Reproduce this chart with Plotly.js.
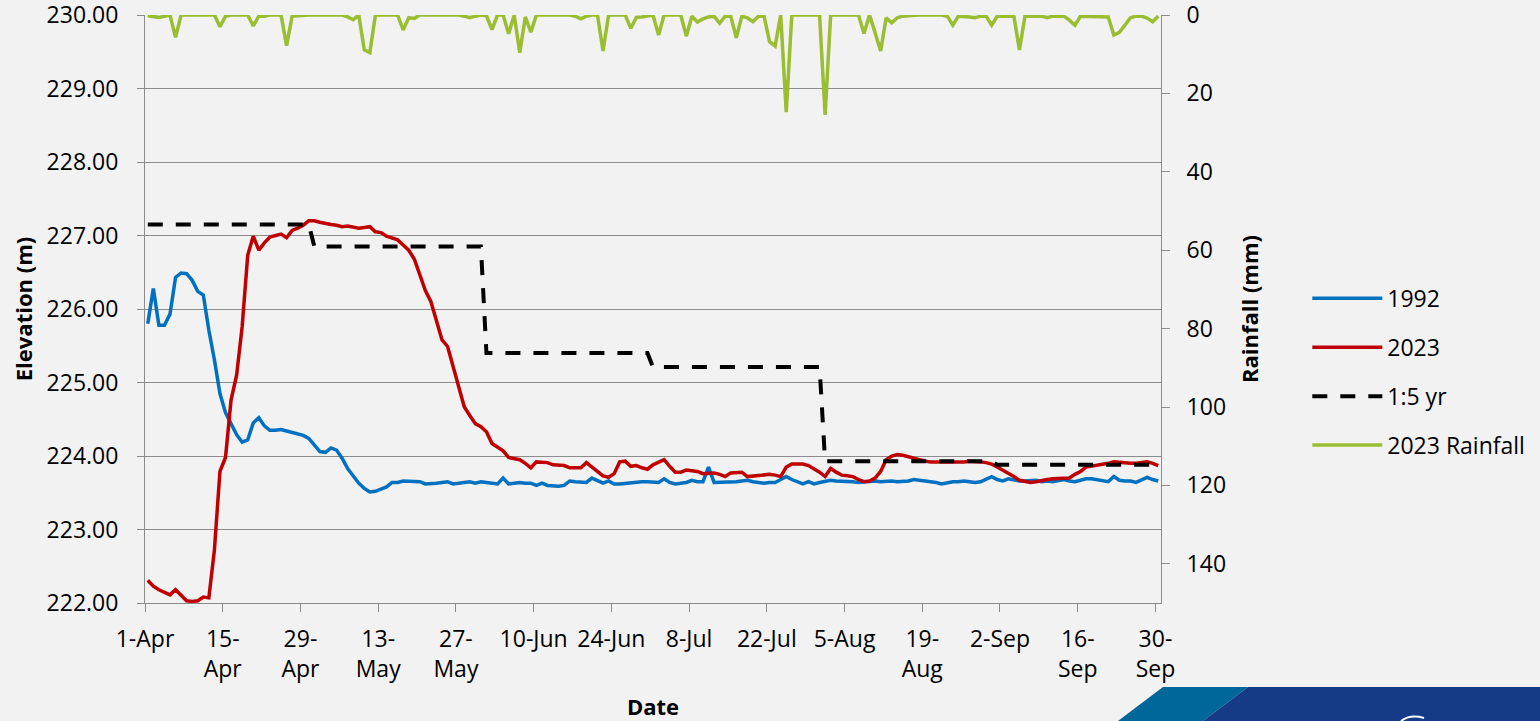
<!DOCTYPE html>
<html>
<head>
<meta charset="utf-8">
<script src="https://cdn.plot.ly/plotly-3.0.1.min.js"></script>
<style>
  html, body { margin: 0; padding: 0; background: #f2f2f2; }
  #chart { width: 1540px; height: 721px; }
</style>
</head>
<body>
<div id="chart"></div>
<script>
// ---- Data (daily, 1-Apr to 30-Sep) ----
const startDate = '2023-04-01';

const elev1992 = [
  225.80,226.28,225.78,225.78,225.93,226.43,226.49,226.48,226.39,226.24,
  226.19,225.71,225.31,224.85,224.59,224.44,224.29,224.19,224.22,224.45,
  224.52,224.41,224.35,224.35,224.36,224.34,224.32,224.30,224.28,224.24,
  224.15,224.06,224.05,224.11,224.08,223.97,223.83,223.73,223.63,223.56,
  223.51,223.52,223.55,223.58,223.64,223.64,223.66,223.66,223.65,223.65,
  223.62,223.62,223.63,223.64,223.65,223.62,223.63,223.63,223.65,223.63,
  223.65,223.64,223.63,223.62,223.70,223.62,223.63,223.64,223.63,223.63,
  223.60,223.63,223.60,223.59,223.59,223.60,223.66,223.65,223.65,223.64,
  223.70,223.66,223.63,223.66,223.62,223.62,223.63,223.63,223.64,223.65,
  223.65,223.65,223.64,223.69,223.64,223.62,223.63,223.64,223.67,223.65,
  223.65,223.85,223.64,223.64,223.64,223.65,223.65,223.66,223.67,223.65,
  223.64,223.63,223.64,223.64,223.68,223.72,223.68,223.65,223.62,223.65,
  223.62,223.64,223.66,223.67,223.66,223.66,223.65,223.65,223.64,223.65,
  223.66,223.66,223.65,223.66,223.66,223.65,223.65,223.66,223.68,223.67,
  223.66,223.66,223.64,223.62,223.64,223.65,223.65,223.66,223.65,223.64,
  223.65,223.68,223.72,223.68,223.66,223.69,223.67,223.66,223.66,223.67,
  223.67,223.65,223.66,223.65,223.67,223.68,223.66,223.65,223.67,223.69,
  223.69,223.68,223.67,223.65,223.72,223.67,223.66,223.66,223.64,223.68,
  223.71,223.68,223.66
];

const elev2023 = [
  222.31,222.23,222.18,222.14,222.11,222.18,222.10,222.03,222.02,222.03,
  222.08,222.07,222.72,223.79,223.98,224.76,225.10,225.76,226.73,226.99,
  226.80,226.90,226.98,227.00,227.02,226.97,227.07,227.10,227.14,227.20,
  227.20,227.18,227.16,227.15,227.14,227.12,227.13,227.12,227.10,227.11,
  227.12,227.05,227.04,226.99,226.97,226.94,226.87,226.80,226.68,226.45,
  226.25,226.10,225.85,225.58,225.49,225.22,224.92,224.67,224.55,224.44,
  224.40,224.33,224.17,224.12,224.07,223.98,223.96,223.95,223.90,223.84,
  223.92,223.92,223.91,223.88,223.87,223.87,223.84,223.84,223.84,223.91,
  223.85,223.79,223.73,223.71,223.76,223.92,223.93,223.86,223.87,223.84,
  223.82,223.88,223.91,223.95,223.86,223.78,223.78,223.81,223.80,223.79,
  223.76,223.76,223.77,223.75,223.72,223.77,223.78,223.78,223.72,223.73,
  223.73,223.75,223.75,223.74,223.72,223.85,223.89,223.89,223.89,223.87,
  223.83,223.78,223.72,223.83,223.78,223.74,223.73,223.72,223.68,223.65,
  223.66,223.70,223.79,223.95,224.00,224.02,224.01,223.99,223.96,223.94,
  223.93,223.92,223.92,223.91,223.91,223.91,223.92,223.92,223.93,223.93,
  223.92,223.91,223.89,223.85,223.81,223.77,223.72,223.67,223.65,223.64,
  223.65,223.67,223.68,223.69,223.69,223.70,223.70,223.75,223.79,223.85,
  223.86,223.87,223.88,223.90,223.92,223.91,223.90,223.90,223.90,223.91,
  223.92,223.90,223.87
];

const oneInFiveYr = [
  227.15,227.15,227.15,227.15,227.15,227.15,227.15,227.15,227.15,227.15,
  227.15,227.15,227.15,227.15,227.15,227.15,227.15,227.15,227.15,227.15,
  227.15,227.15,227.15,227.15,227.15,227.15,227.15,227.15,227.15,227.15,
  226.85,226.85,226.85,226.85,226.85,226.85,226.85,226.85,226.85,226.85,
  226.85,226.85,226.85,226.85,226.85,226.85,226.85,226.85,226.85,226.85,
  226.85,226.85,226.85,226.85,226.85,226.85,226.85,226.85,226.85,226.85,
  226.85,225.40,225.40,225.40,225.40,225.40,225.40,225.40,225.40,225.40,
  225.40,225.40,225.40,225.40,225.40,225.40,225.40,225.40,225.40,225.40,
  225.40,225.40,225.40,225.40,225.40,225.40,225.40,225.40,225.40,225.40,
  225.40,225.21,225.21,225.21,225.21,225.21,225.21,225.21,225.21,225.21,
  225.21,225.21,225.21,225.21,225.21,225.21,225.21,225.21,225.21,225.21,
  225.21,225.21,225.21,225.21,225.21,225.21,225.21,225.21,225.21,225.21,
  225.21,225.21,223.93,223.93,223.93,223.93,223.93,223.93,223.93,223.93,
  223.93,223.93,223.93,223.93,223.93,223.93,223.93,223.93,223.93,223.93,
  223.93,223.93,223.93,223.93,223.93,223.93,223.93,223.93,223.93,223.93,
  223.93,223.93,223.93,223.88,223.88,223.88,223.88,223.88,223.88,223.88,
  223.88,223.88,223.88,223.88,223.88,223.88,223.88,223.88,223.88,223.88,
  223.88,223.88,223.88,223.88,223.88,223.88,223.88,223.88,223.88,223.88,
  223.88,223.88,223.88
];

const rainfall2023 = [
  0.2,0.3,0.6,0.3,0,5.7,0,0,0,0,
  0,0,0,3.0,0.3,0,0,0,0,2.8,
  0.3,0.3,0,0,0,7.8,0.3,0.2,0,0,
  0,0,0,0,0,0,0.5,1.2,0,8.9,
  9.6,0,0,0,0,0,3.8,0.7,0.9,0,
  0,0,0,0,0,0,0,0.3,0.7,0.3,
  0,0.2,3.7,0,0,4.8,0,9.6,0.5,4.4,
  0,0,0,0,0,0,0,0.3,1.0,0.3,
  0,0,9.2,0,0,0,0,3.4,0.6,0.5,
  0.3,0,5.1,0,0,0,0,5.4,0.3,1.8,
  1.0,0.5,0.3,2.1,0.3,0.3,5.8,0.3,0.7,1.7,
  0.3,0.3,6.8,7.9,0,24.8,0,0,0,0,
  0,0,25.5,0,0,0,0,0,0,4.7,
  0,4.5,9.2,0.7,2.0,0.7,0.3,0.2,0,0,
  0,0,0,0,0.3,2.6,0.3,0.3,0.5,0.7,
  0.3,0.3,2.6,0.3,0.3,0.3,0.3,8.9,0.3,0.3,
  0.3,0.3,0.7,0.3,0.3,0.3,1.3,2.6,0.3,0.3,
  0.3,0.3,0.3,0.5,5.1,4.4,2.6,0.7,0.3,0.3,
  0.8,1.7,0.3
];

const tickDates = ['2023-04-01','2023-04-15','2023-04-29','2023-05-13','2023-05-27',
  '2023-06-10','2023-06-24','2023-07-08','2023-07-22','2023-08-05','2023-08-19',
  '2023-09-02','2023-09-16','2023-09-30'];
const tickLabels = ['1-Apr','15-<br>Apr','29-<br>Apr','13-<br>May','27-<br>May',
  '10-Jun','24-Jun','8-Jul','22-Jul','5-Aug','19-<br>Aug','2-Sep','16-<br>Sep','30-<br>Sep'];

const rainTicks = [0,20,40,60,80,100,120,140];

// Each daily value sits in the middle of its day (Excel date axis, between tick marks)
const t0 = Date.parse(startDate + 'T00:00:00Z');
const dates = elev1992.map((_, i) => {
  const d = new Date(t0 + i * 86400000 + 12 * 3600000);
  return d.toISOString().slice(0, 10) + ' 12:00';
});

const FONT = 'Open Sans, Noto Sans, sans-serif';
const GRID = '#8c8c8c';

const traces = [
  { x: dates, y: elev1992, name: '1992', type: 'scatter', mode: 'lines',
    line: { color: '#0070c0', width: 3.5 }, legendgroup: 'a' },
  { x: dates, y: elev2023, name: '2023', type: 'scatter', mode: 'lines',
    line: { color: '#c00000', width: 3.5 }, legendgroup: 'b' },
  { x: dates, y: oneInFiveYr, name: '1:5 yr', type: 'scatter', mode: 'lines',
    line: { color: '#000000', width: 4, dash: '15px,13px' }, legendgroup: 'c' },
  { x: dates, y: rainfall2023, name: '2023 Rainfall', type: 'scatter', mode: 'lines',
    yaxis: 'y2', cliponaxis: false,
    line: { color: '#9bbd32', width: 3.5 }, legendgroup: 'd' }
];

const px2x = p => (p - 145) / 1016;
const px2y = p => (603 - p) / 588;

const layout = {
  width: 1540, height: 721,
  paper_bgcolor: '#f2f2f2', plot_bgcolor: '#f2f2f2',
  margin: { l: 145, r: 379, t: 15, b: 118, autoexpand: false },
  font: { family: FONT, size: 23, color: '#000' },
  showlegend: true,
  legend: {
    x: 1.144, xanchor: 'left', y: 0.393, yanchor: 'middle',
    bgcolor: 'rgba(0,0,0,0)', font: { family: FONT, size: 23, color: '#000' },
    itemwidth: 70, tracegroupgap: 16
  },
  xaxis: {
    type: 'date',
    range: ['2023-04-01', '2023-10-01'],
    tickmode: 'array', tickvals: tickDates, ticktext: tickLabels,
    ticks: 'outside', ticklen: 8, tickcolor: GRID, tickwidth: 1,
    showline: true, linecolor: GRID, linewidth: 1,
    showgrid: false, zeroline: false,
    ticklabelstandoff: 7, ticklabeloverflow: 'allow',
    tickfont: { family: FONT, size: 23, color: '#000' },
    title: { text: 'Date', font: { family: FONT, size: 22, color: '#000', weight: 'bold' }, standoff: 25 }
  },
  yaxis: {
    range: [222, 230], dtick: 1, tick0: 222, tickformat: '.2f',
    ticks: 'outside', ticklen: 7, tickcolor: GRID,
    showline: true, linecolor: GRID, linewidth: 1,
    showgrid: true, gridcolor: GRID, gridwidth: 1, zeroline: false,
    ticklabelstandoff: 14, ticklabeloverflow: 'allow',
    tickfont: { family: FONT, size: 23, color: '#000' },
    title: { text: 'Elevation (m)', font: { family: FONT, size: 22, color: '#000', weight: 'bold' }, standoff: 7 }
  },
  yaxis2: {
    overlaying: 'y', side: 'right', anchor: 'x',
    range: [150, 0], tickmode: 'array', tickvals: rainTicks,
    ticks: 'outside', ticklen: 8, tickcolor: GRID,
    showline: true, linecolor: GRID, linewidth: 1,
    showgrid: false, zeroline: false,
    ticklabelstandoff: 12, ticklabeloverflow: 'allow',
    tickfont: { family: FONT, size: 23, color: '#000' },
    title: { text: 'Rainfall (mm)', font: { family: FONT, size: 22, color: '#000', weight: 'bold' }, standoff: 17 }
  },
  shapes: [
    { type: 'path', xref: 'paper', yref: 'paper', layer: 'above', line: { width: 0 },
      fillcolor: '#00679a',
      path: `M ${px2x(1163)} ${px2y(687)} L ${px2x(1248)} ${px2y(687)} L ${px2x(1203)} ${px2y(721)} L ${px2x(1118)} ${px2y(721)} Z` },
    { type: 'path', xref: 'paper', yref: 'paper', layer: 'above', line: { width: 0 },
      fillcolor: '#153a86',
      path: `M ${px2x(1248)} ${px2y(687)} L ${px2x(1540)} ${px2y(687)} L ${px2x(1540)} ${px2y(721)} L ${px2x(1203)} ${px2y(721)} Z` },
    { type: 'path', xref: 'paper', yref: 'paper', layer: 'above',
      line: { color: '#ffffff', width: 2 },
      path: `M ${px2x(1401)} ${px2y(721)} Q ${px2x(1410)} ${px2y(714)} ${px2x(1424)} ${px2y(718)}` }
  ]
};

Plotly.newPlot('chart', traces, layout, { displayModeBar: false, staticPlot: true });
</script>
</body>
</html>
